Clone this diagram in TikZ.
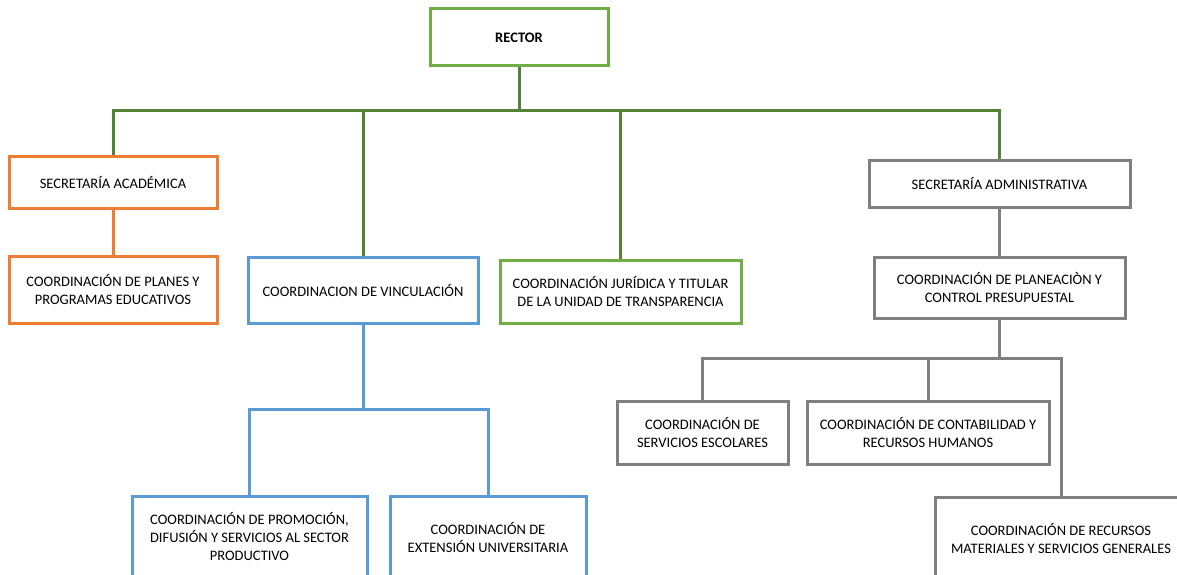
\documentclass[tikz,border=0pt]{standalone}
\usepackage{fontspec}
\setmainfont{Carlito}
\definecolor{lgreen}{HTML}{70AD47}
\definecolor{dgreen}{HTML}{538135}
\definecolor{orng}{HTML}{ED7D31}
\definecolor{blu}{HTML}{5B9BD5}
\definecolor{gry}{HTML}{7F7F7F}
\tikzset{
  box/.style={draw, line width=3pt, inner sep=0pt, align=center, font=\fontsize{14.5}{18}\selectfont},
  gline/.style={draw=dgreen, line width=3pt},
  oline/.style={draw=orng, line width=3pt},
  bline/.style={draw=blu, line width=3pt},
  kline/.style={draw=gry, line width=3pt},
}
\begin{document}
\begin{tikzpicture}[x=1pt,y=-1pt]
\useasboundingbox (0,0) rectangle (1177,575);
\fill[white] (0,0) rectangle (1177,575);
\clip (0,0) rectangle (1177,575);

\node[box, draw=lgreen, minimum width=178pt, minimum height=57pt, font=\fontsize{14.5}{18}\selectfont\bfseries] (rector) at (519,37.5) {RECTOR};
\node[box, draw=orng, minimum width=208pt, minimum height=52pt] (seca) at (113,182) {SECRETARÍA ACADÉMICA};
\node[box, draw=orng, minimum width=208pt, minimum height=67pt] (planes) at (113,289.5) {COORDINACIÓN DE PLANES Y\\PROGRAMAS EDUCATIVOS};
\node[box, draw=blu, minimum width=230pt, minimum height=66pt] (vinc) at (363,290) {COORDINACION DE VINCULACIÓN};
\node[box, draw=lgreen, minimum width=241pt, minimum height=63pt] (jur) at (620.5,291.5) {COORDINACIÓN JURÍDICA Y TITULAR\\DE LA UNIDAD DE TRANSPARENCIA};
\node[box, draw=gry, minimum width=261pt, minimum height=47pt] (secadm) at (999.5,183.5) {SECRETARÍA ADMINISTRATIVA};
\node[box, draw=gry, minimum width=251pt, minimum height=61pt] (plan) at (999.5,287.5) {COORDINACIÓN DE PLANEACIÒN Y\\CONTROL PRESUPUESTAL};
\node[box, draw=gry, minimum width=171pt, minimum height=63pt] (esc) at (702.5,432.5) {COORDINACIÓN DE\\SERVICIOS ESCOLARES};
\node[box, draw=gry, minimum width=242pt, minimum height=63pt] (cont) at (928,432.5) {COORDINACIÓN DE CONTABILIDAD Y\\RECURSOS HUMANOS};
\node[box, draw=gry, minimum width=252pt, minimum height=82pt] (rec) at (1061,538) {COORDINACIÓN DE RECURSOS\\MATERIALES Y SERVICIOS GENERALES};
\node[box, draw=blu, minimum width=235pt, minimum height=80pt] (prom) at (249.5,536) {COORDINACIÓN DE PROMOCIÓN,\\DIFUSIÓN Y SERVICIOS AL SECTOR\\PRODUCTIVO};
\node[box, draw=blu, minimum width=196pt, minimum height=82pt] (ext) at (488,537) {COORDINACIÓN DE\\EXTENSIÓN UNIVERSITARIA};

\coordinate (bus) at (0,111);
\coordinate (gbus) at (0,358);
\coordinate (bbus) at (0,409);

\draw[gline] (seca.north) -- (seca.north |- bus) -- (secadm.north |- bus) -- (secadm.north);
\draw[gline] (rector.south) -- (rector.south |- bus);
\draw[gline] (vinc.north) -- (vinc.north |- bus);
\draw[gline] (jur.north) -- (jur.north |- bus);

\draw[oline] (seca.south) -- (planes.north);

\draw[bline] (vinc.south) -- (vinc.south |- bbus);
\draw[bline] (prom.north) -- (prom.north |- bbus) -- (ext.north |- bbus) -- (ext.north);

\draw[kline] (secadm.south) -- (plan.north);
\draw[kline] (plan.south) -- (plan.south |- gbus);
\draw[kline] (esc.north) -- (esc.north |- gbus) -- (rec.north |- gbus) -- (rec.north);
\draw[kline] (cont.north) -- (cont.north |- gbus);
\end{tikzpicture}
\end{document}
